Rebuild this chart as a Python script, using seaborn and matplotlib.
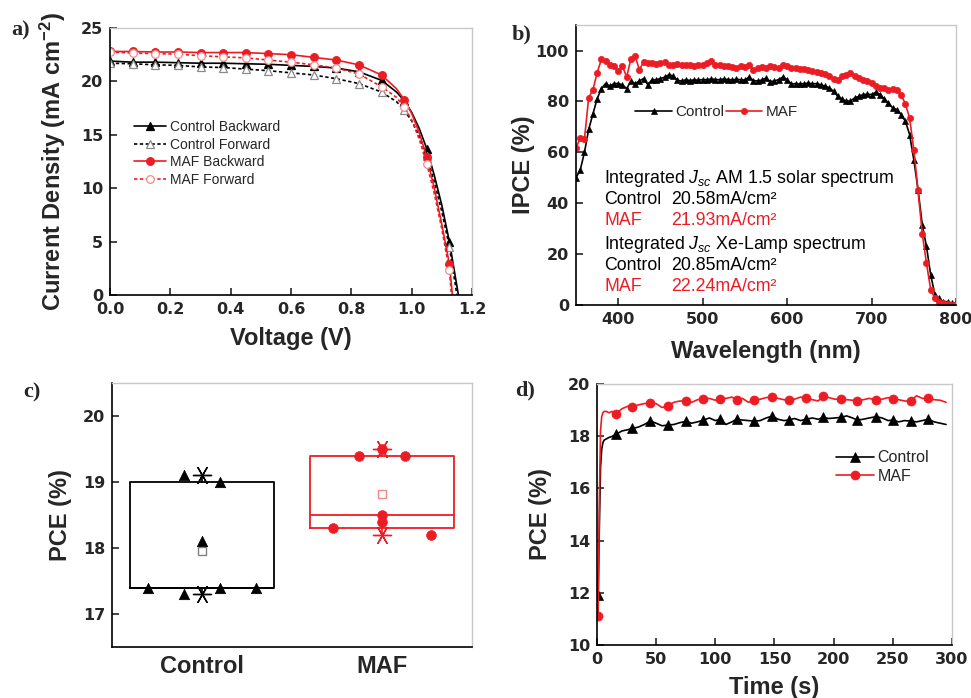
import numpy as np
import matplotlib
matplotlib.use("Agg")
import matplotlib.pyplot as plt
import seaborn as sns

# ---- data ----
# a) J-V curves
v_grid = [0.0, 0.075, 0.15, 0.225, 0.3, 0.375, 0.45, 0.525, 0.6, 0.675, 0.75,
          0.825, 0.9, 0.95, 0.975, 1.0, 1.025, 1.05, 1.075, 1.1, 1.125]
ctrl_bw = [21.9, 21.8, 21.8, 21.75, 21.7, 21.7, 21.65, 21.6, 21.5, 21.4, 21.25,
           20.9, 20.1, 19.0, 18.2, 17.1, 15.6, 13.7, 11.2, 8.4, 5.0]
ctrl_fw = [21.7, 21.65, 21.55, 21.5, 21.35, 21.3, 21.15, 21.0, 20.8, 20.6, 20.25,
           19.8, 19.0, 18.1, 17.3, 16.3, 14.9, 13.0, 10.6, 7.8, 4.5]
maf_bw = [22.8, 22.8, 22.75, 22.75, 22.7, 22.7, 22.7, 22.6, 22.5, 22.25, 22.0,
          21.55, 20.6, 19.3, 18.3, 17.0, 15.2, 12.9, 10.0, 6.6, 2.9]
maf_fw = [22.75, 22.65, 22.6, 22.55, 22.4, 22.3, 22.2, 22.0, 21.8, 21.55, 21.25,
          20.7, 19.5, 18.5, 17.6, 16.4, 14.6, 12.3, 9.5, 6.2, 2.3]
voc = {"Control Backward": 1.155, "Control Forward": 1.15,
       "MAF Backward": 1.135, "MAF Forward": 1.132}

# b) IPCE spectra
wavelength = [350, 355, 360, 365, 370, 375, 380, 385, 390, 395,
              400, 405, 410, 415, 420, 425, 430, 435, 440, 445,
              450, 455, 460, 465, 470, 475, 480, 485, 490, 495,
              500, 505, 510, 515, 520, 525, 530, 535, 540, 545,
              550, 555, 560, 565, 570, 575, 580, 585, 590, 595,
              600, 605, 610, 615, 620, 625, 630, 635, 640, 645,
              650, 655, 660, 665, 670, 675, 680, 685, 690, 695,
              700, 705, 710, 715, 720, 725, 730, 735, 740, 745,
              750, 755, 760, 765, 770, 775, 780, 785, 790, 795, 800]
ipce_ctrl = [50, 53, 60, 69, 75, 81, 85, 87, 86, 87,
             87, 86.5, 85, 88, 87, 88, 89, 86.6, 88.5, 88.5,
             89, 89.5, 90.5, 90, 88.3, 88, 88.5, 88.2, 88.5, 88.3,
             88.6, 88.5, 88.8, 88.6, 88.5, 88.8, 88.6, 88.4, 88.7, 88.5,
             88.4, 89.6, 88.2, 88, 88.4, 89.2, 87.8, 88, 88.6, 89.6,
             88.5, 86.8, 87, 86.8, 87, 87.2, 86.9, 87, 86.5, 86,
             85.3, 84, 82, 81, 80, 80.2, 81.4, 82, 82.7, 82.8,
             82.7, 83.6, 82.7, 81, 79.4, 77.4, 76.8, 74.8, 72.2, 67,
             57, 45.3, 31.5, 23, 11.8, 4, 2.6, 1.3, 1.3, 0.7, 0.7]
ipce_maf = [61.7, 65.6, 65.2, 81.4, 84.6, 91.2, 96.5, 95.8, 94.5, 93.8,
            91.9, 93.8, 89.6, 96.7, 97.8, 92.5, 95.4, 94.9, 95.1, 94.6,
            95, 95.4, 94.5, 94.3, 94.6, 94.2, 94.5, 94.3, 94.1, 94.4,
            94.2, 95, 95.8, 94.5, 94.2, 93.8, 94, 93.5, 93.2, 93.8,
            93.6, 94.5, 92.5, 93, 93.4, 93.2, 93.8, 93.5, 93, 94.5,
            93.8, 93.2, 93, 92.6, 92.8, 92.5, 91.9, 91.5, 91.2, 90.6,
            90, 89, 88.6, 90, 90.5, 91.2, 90, 89.2, 88.6, 88,
            87.3, 86, 85.3, 85.3, 84.6, 85, 84.6, 82.7, 79, 73.5,
            61, 45, 28, 16.4, 6, 2.6, 1.3, 0.7, 0.3, 0.2, 0.2]
jsc_am = {"Control": 20.58, "MAF": 21.93}
jsc_xe = {"Control": 20.85, "MAF": 22.24}

# c) PCE statistics
groups = ["Control", "MAF"]
pce_ctrl = [19.1, 19.0, 18.1, 17.4, 17.3, 17.4, 17.4]
pce_maf = [19.5, 19.4, 19.4, 18.5, 18.4, 18.3, 18.2]

# d) stabilized PCE
time_s = [0.5, 1, 2, 3, 4, 5, 6, 8, 10, 13, 16, 21, 26, 30, 35, 40, 45, 50, 55, 60,
          65, 70, 75, 80, 85, 90, 95, 100, 104, 109, 114, 118, 123, 128, 133, 138,
          143, 148, 153, 158, 162, 167, 172, 177, 182, 187, 191, 196, 201, 206, 211,
          216, 220, 225, 230, 236, 241, 246, 250, 255, 260, 265, 270, 275, 280, 285,
          290, 295]
spo_ctrl = [11.9, 11.95, 14.5, 16.8, 17.5, 17.75, 17.85, 17.9, 17.95, 18.0, 18.07,
            18.2, 18.25, 18.3, 18.35, 18.45, 18.58, 18.5, 18.4, 18.43, 18.45, 18.52,
            18.57, 18.5, 18.55, 18.62, 18.7, 18.6, 18.65, 18.45, 18.55, 18.65, 18.62,
            18.6, 18.58, 18.6, 18.7, 18.77, 18.65, 18.6, 18.62, 18.68, 18.6, 18.65,
            18.7, 18.65, 18.72, 18.68, 18.7, 18.72, 18.78, 18.7, 18.62, 18.65, 18.7,
            18.75, 18.7, 18.6, 18.62, 18.55, 18.6, 18.58, 18.55, 18.6, 18.65, 18.55,
            18.5, 18.45]
spo_maf = [11.1, 11.11, 15.5, 18.2, 18.75, 18.9, 18.95, 18.95, 18.9, 18.95, 18.85,
           19.05, 19.15, 19.12, 19.2, 19.25, 19.28, 19.25, 19.1, 19.17, 19.3, 19.35,
           19.35, 19.3, 19.4, 19.42, 19.45, 19.38, 19.41, 19.45, 19.5, 19.39, 19.45,
           19.3, 19.39, 19.42, 19.48, 19.51, 19.45, 19.4, 19.38, 19.42, 19.5, 19.45,
           19.4, 19.35, 19.54, 19.48, 19.42, 19.43, 19.4, 19.38, 19.35, 19.4, 19.45,
           19.39, 19.42, 19.48, 19.41, 19.4, 19.35, 19.35, 19.55, 19.45, 19.45, 19.4,
           19.38, 19.3]

# ---- style ----
RED = "#ec1c24"
sns.set_style("ticks")
plt.rcParams["font.family"] = ["Liberation Sans", "DejaVu Sans"]
plt.rcParams["mathtext.fontset"] = "custom"
plt.rcParams["mathtext.rm"] = "Liberation Sans"
plt.rcParams["mathtext.it"] = "Liberation Sans:italic"
plt.rcParams["mathtext.bf"] = "Liberation Sans:bold"

TICK_FONT = dict(family="DejaVu Sans", weight="bold", size=11.5)
LABEL_FONT = dict(family="Liberation Sans", weight="bold", size=17)


def style_axes(ax):
    for s in ["top", "right"]:
        ax.spines[s].set_color("#c8c8c8")
        ax.spines[s].set_linewidth(1.0)
    for s in ["left", "bottom"]:
        ax.spines[s].set_color("black")
        ax.spines[s].set_linewidth(1.2)
    ax.tick_params(direction="in", length=5, width=1.2, pad=5,
                   top=False, right=False)
    for lab in ax.get_xticklabels() + ax.get_yticklabels():
        lab.set_fontproperties(matplotlib.font_manager.FontProperties(**TICK_FONT))


fig = plt.figure(figsize=(9.71, 6.98), dpi=100)

# ---- a) J-V ----
ax = fig.add_axes([0.1133, 0.5774, 0.3728, 0.3825])
a_marks = list(range(0, 13)) + [14, 17, 20]
curves = [("Control Backward", ctrl_bw, "black", "-", "^", "black", "black"),
          ("Control Forward", ctrl_fw, "black", (0, (2, 1.5)), "^", "white", "#8a8a8a"),
          ("MAF Backward", maf_bw, RED, "-", "o", RED, RED),
          ("MAF Forward", maf_fw, RED, (0, (2, 1.5)), "o", "white", "#f28a8a")]
for name, j, col, ls, mk, mfc, mec in curves:
    sns.lineplot(x=v_grid + [voc[name]], y=j + [0], ax=ax, color=col, linestyle=ls,
                 lw=1.2, marker=mk, markevery=a_marks, ms=5.5, mfc=mfc, mec=mec,
                 mew=0.9, label=name, sort=False)
ax.set_xlim(0, 1.2)
ax.set_ylim(0, 25)
ax.set_xticks([0.0, 0.2, 0.4, 0.6, 0.8, 1.0, 1.2])
ax.set_xticklabels(["0.0", "0.2", "0.4", "0.6", "0.8", "1.0", "1.2"])
ax.set_yticks([0, 5, 10, 15, 20, 25])
ax.set_xlabel("Voltage (V)", **LABEL_FONT)
ax.set_ylabel(r"Current Density (mA cm$^{\mathbf{-2}}$)", **LABEL_FONT)
ax.xaxis.set_label_coords(0.5, -0.12)
ax.yaxis.set_label_coords(-0.115, 0.5)
ax.legend(loc="upper left", bbox_to_anchor=(0.05, 0.675), frameon=False,
          fontsize=10, handlelength=2.3, handletextpad=0.3, labelspacing=0.25,
          borderaxespad=0)
style_axes(ax)

# ---- b) IPCE ----
ax = fig.add_axes([0.5932, 0.5630, 0.3914, 0.4011])
sns.lineplot(x=wavelength, y=ipce_ctrl, ax=ax, color="black", lw=1.2, marker="^",
             ms=4.5, mfc="black", mec="black", mew=0.5, label="Control")
sns.lineplot(x=wavelength, y=ipce_maf, ax=ax, color=RED, lw=1.2, marker="o",
             ms=4.5, mfc=RED, mec=RED, mew=0.5, label="MAF")
ax.set_xlim(350, 800)
ax.set_ylim(0, 110)
ax.set_xticks([400, 500, 600, 700, 800])
ax.set_yticks([0, 20, 40, 60, 80, 100])
ax.set_xlabel("Wavelength (nm)", **LABEL_FONT)
ax.set_ylabel("IPCE (%)", **LABEL_FONT)
ax.xaxis.set_label_coords(0.5, -0.125)
ax.yaxis.set_label_coords(-0.108, 0.5)
ax.legend(loc="center left", bbox_to_anchor=(0.14, 0.69), frameon=False, ncol=2,
          fontsize=11, handlelength=2.4, handletextpad=0.2, columnspacing=0.1,
          borderaxespad=0)
rows = [("Integrated $J_{sc}$ AM 1.5 solar spectrum", None, "black"),
        ("Control", jsc_am["Control"], "black"),
        ("MAF", jsc_am["MAF"], RED),
        ("Integrated $J_{sc}$ Xe-Lamp spectrum", None, "black"),
        ("Control", jsc_xe["Control"], "black"),
        ("MAF", jsc_xe["MAF"], RED)]
ys = [0.4536, 0.3786, 0.3036, 0.2179, 0.1429, 0.0679]
for (lab, val, col), yy in zip(rows, ys):
    ax.text(0.074, yy, lab, color=col, fontsize=12.8, va="center", ha="left",
            transform=ax.transAxes)
    if val is not None:
        ax.text(0.25, yy, f"{val:.2f}mA/cm\u00b2", color=col, fontsize=12.8,
                va="center", ha="left", transform=ax.transAxes)
style_axes(ax)

# ---- c) PCE box ----
ax = fig.add_axes([0.1153, 0.0731, 0.3708, 0.3782])
jitter = {"Control": [-0.1, 0.1, 0.0, -0.3, -0.1, 0.1, 0.3],
          "MAF": [0.0, -0.13, 0.13, 0.0, 0.0, -0.27, 0.27]}
box_sets = [("Control", pce_ctrl, "black", "#808080", "^", 7.5),
            ("MAF", pce_maf, RED, "#f28a8a", "o", 7.0)]
for pos, (name, vals, col, mcol, mk, ms) in enumerate(box_sets):
    arr = np.array(vals)
    q1, med, q3 = np.percentile(arr, [25, 50, 75], method="weibull")
    stats = [dict(q1=q1, med=med, q3=q3, whislo=arr.min(), whishi=arr.max(),
                  mean=arr.mean(), fliers=[])]
    ax.bxp(stats, positions=[pos], widths=0.8, showmeans=True, showcaps=False,
           showfliers=False, boxprops=dict(color=col, lw=1.3),
           whiskerprops=dict(color=col, lw=1.2), medianprops=dict(color=col, lw=1.3),
           meanprops=dict(marker="s", mfc="white", mec=mcol, ms=6, mew=1.0))
    sns.scatterplot(x=pos + np.array(jitter[name]), y=arr, ax=ax, marker=mk,
                    color=col, edgecolor=col, s=ms ** 2, linewidth=0.5, zorder=3,
                    legend=False)
    ax.scatter([pos, pos], [arr.min(), arr.max()], marker=(6, 2, 90), s=170,
               color=col, linewidths=1.0, zorder=4)
ax.set_xlim(-0.5, 1.5)
ax.set_ylim(16.5, 20.5)
ax.set_xticks([0, 1])
ax.set_yticks([17, 18, 19, 20])
ax.set_ylabel("PCE (%)", **LABEL_FONT)
ax.yaxis.set_label_coords(-0.111, 0.5)
style_axes(ax)
ax.set_xticklabels(groups, **LABEL_FONT)
ax.tick_params(axis="x", length=0, pad=6)

# ---- d) stabilized PCE ----
ax = fig.add_axes([0.6148, 0.0759, 0.3656, 0.3739])
d_marks = [0, 10] + list(range(13, 65, 3))
sns.lineplot(x=time_s, y=spo_ctrl, ax=ax, color="black", lw=1.2, marker="^",
             markevery=d_marks, ms=6.5, mfc="black", mec="black", mew=0.5,
             label="Control")
sns.lineplot(x=time_s, y=spo_maf, ax=ax, color=RED, lw=1.2, marker="o",
             markevery=d_marks, ms=6.5, mfc=RED, mec=RED, mew=0.5, label="MAF")
ax.set_xlim(0, 300)
ax.set_ylim(10, 20)
ax.set_xticks([0, 50, 100, 150, 200, 250, 300])
ax.set_yticks([10, 12, 14, 16, 18, 20])
ax.set_xlabel("Time (s)", **LABEL_FONT)
ax.set_ylabel("PCE (%)", **LABEL_FONT)
ax.xaxis.set_label_coords(0.5, -0.117)
ax.yaxis.set_label_coords(-0.127, 0.5)
ax.legend(loc="center left", bbox_to_anchor=(0.655, 0.682), frameon=False,
          fontsize=11.5, handlelength=2.4, handletextpad=0.2, labelspacing=0.2,
          borderaxespad=0)
style_axes(ax)

# panel letters
for letter, (px, py) in zip(["a)", "b)", "c)", "d)"],
                            [(0.012, 0.956), (0.527, 0.950), (0.0237, 0.437), (0.530, 0.441)]):
    fig.text(px, py, letter, family="Liberation Serif", weight="bold", fontsize=16,
             ha="left", va="center")

fig.savefig("out.png", dpi=100)
